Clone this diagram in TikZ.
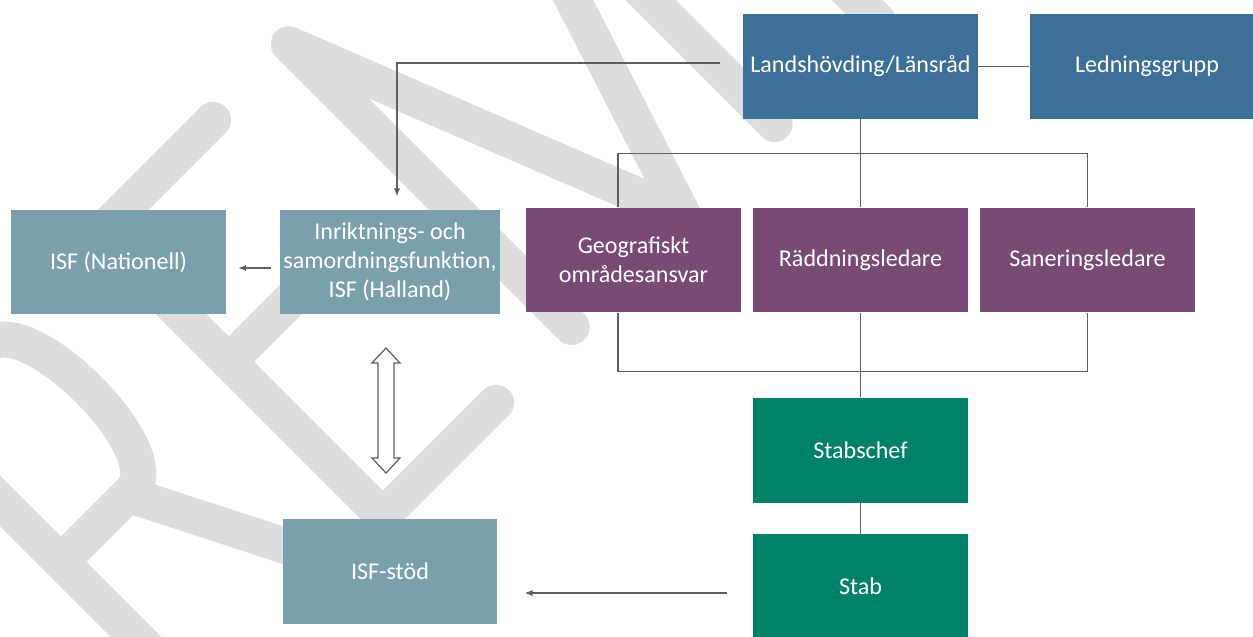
\documentclass[tikz,border=0pt]{standalone}
\usepackage{fontspec}
\setmainfont{Carlito}
\usetikzlibrary{calc,arrows.meta}

\definecolor{leadblue}{RGB}{61,112,150}
\definecolor{leadpurple}{RGB}{122,74,119}
\definecolor{isfteal}{RGB}{122,160,172}
\definecolor{stabgreen}{RGB}{0,130,106}
\definecolor{linegray}{RGB}{95,95,95}
\definecolor{wmgray}{RGB}{221,221,221}

\tikzset{
  box/.style={minimum width=4.3cm, minimum height=2.1cm, inner sep=2pt,
    text=white, align=center, font=\fontsize{13.7}{16.5}\selectfont},
  topbox/.style={box, fill=leadblue, minimum width=4.7cm},
  midbox/.style={box, fill=leadpurple},
  isfbox/.style={box, fill=isfteal},
  stabbox/.style={box, fill=stabgreen},
  conn/.style={draw=linegray, line width=0.6pt},
  hollowarrow/.style={draw=linegray, fill=white, line width=0.7pt, line join=miter},
  wmstroke/.style={draw=wmgray, line width=0.72cm, line cap=round, line join=round}
}

\begin{document}
\begin{tikzpicture}[x=0.02cm, y=-0.02cm, >={Latex[length=4.5pt,width=3.6pt]}]
    \useasboundingbox (0,0) rectangle (1253,636);
    % watermark, letters laid along 45 degrees
    \begin{scope}
      \clip (0,0) rectangle (1253,636);
      \begin{scope}[shift={(100,233)}, rotate=45, wmstroke]
        \draw (-260,400) -- (-260,0) -- (-160,0)
          .. controls (-105,0) and (-105,205) .. (-160,205) -- (-260,205);
        \draw (-165,205) -- (-66,400);
        \draw (160,0) -- (0,0) -- (0,400) -- (160,400);
        \draw (0,182) -- (140,182);
        \draw (267,400) -- (267,0) -- (425,400) -- (554,0) -- (554,400);
        \draw (700,0) -- (700,400);
      \end{scope}
    \end{scope}

    \node[topbox] (lands) at (860.5,66.5) {Landshövding/Länsråd};
    \node[topbox] (ledn) at (1147,66.5) {Ledningsgrupp};

    \node[midbox] (geo) at (633.5,260) {Geografiskt\\områdesansvar};
    \node[midbox] (radd) at (860.5,260) {Räddningsledare};
    \node[midbox] (san) at (1087.5,260) {Saneringsledare};

    \node[isfbox] (isfnat) at (118.5,262) {ISF (Nationell)};
    \node[isfbox] (isfh) at (390,262) {Inriktnings- och\\samordningsfunktion,\\ISF (Halland)};
    \node[isfbox] (isfstod) at (390,571) {ISF-stöd};

    \node[stabbox] (stabschef) at (860.5,450) {Stabschef};
    \node[stabbox] (stab) at (860.5,586.5) {Stab};

    \draw[conn] (lands.east) -- (ledn.west);
    \draw[conn] (lands.south) -- (radd.north);
    \draw[conn] ($(geo.north)+(-15.5,0)$) |- ($(san.north)+(0,-54)$) -- (san.north);
    \draw[conn] ($(geo.south)+(-15.5,0)$) |- ($(san.south)+(0,59)$) -- (san.south);
    \draw[conn] (radd.south) -- (stabschef.north);
    \draw[conn] (stabschef.south) -- (stab.north);

    \draw[conn,->] ($(lands.west)+(-23,-3.5)$) -| ($(isfh.north)+(7,-13)$);
    \draw[conn,->] ($(isfh.west)+(-9,6)$) -- ($(isfnat.east)+(12,6)$);
    \draw[conn,->] ($(stab.west)+(-26,6.5)$) -- ($(isfstod.east |- stab.west)+(27,6.5)$);

    % two-way arrow between ISF (Halland) and ISF-stöd
    \coordinate (twoway) at ($(isfh.south)!0.5!(isfstod.north)+(-4,-6)$);
    \draw[hollowarrow] ($(twoway)+(0,-62.5)$) -- ++(14,15) -- ++(-6,0) -- ++(0,95)
      -- ++(6,0) -- ++(-14,15) -- ++(-14,-15) -- ++(6,0) -- ++(0,-95) -- ++(-6,0) -- cycle;
\end{tikzpicture}
\end{document}
